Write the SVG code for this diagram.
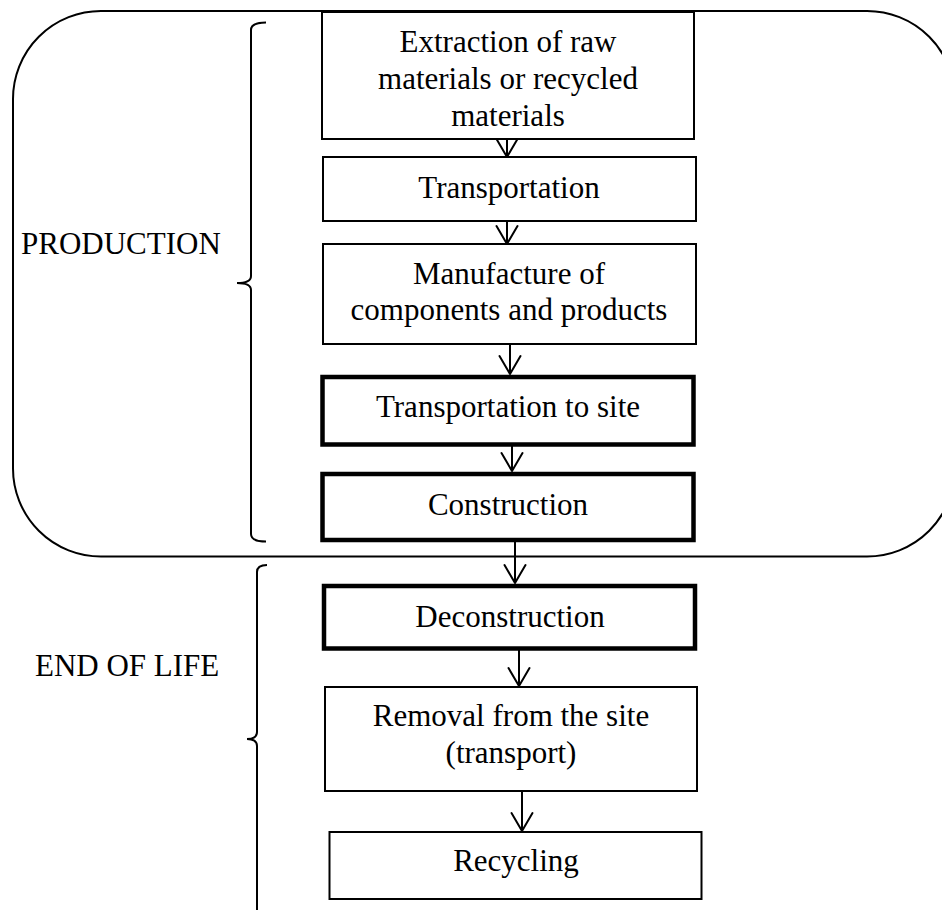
<svg xmlns="http://www.w3.org/2000/svg" width="942" height="910" viewBox="0 0 942 910">
<style>
  .bg { fill: #ffffff; }
  .frame { fill: none; stroke: #000; stroke-width: 2; }
  .box { fill: #fff; stroke: #000; stroke-width: 2; }
  .thick { fill: #fff; stroke: #000; stroke-width: 4.5; }
  .lbl { font-family: "Liberation Serif", "Times New Roman", serif; font-size: 31px; fill: #000; }
  .mid { text-anchor: middle; }
  .conn { fill: none; stroke: #000; stroke-width: 2; }
  .brace { fill: none; stroke: #000; stroke-width: 2; }
</style>
<defs>
  <marker id="arr" markerUnits="userSpaceOnUse" markerWidth="24" markerHeight="24" viewBox="0 0 24 24" refX="20" refY="12" orient="auto">
    <path d="M2,1.5 L20,12 L2,22.5" fill="none" stroke="#000" stroke-width="2" stroke-linejoin="round" stroke-linecap="round"/>
  </marker>
</defs>
<rect class="bg" x="0" y="0" width="942" height="910"/>

<g id="production-frame">
  <rect class="frame" x="13" y="11" width="942" height="545.5" rx="88" ry="88"/>
</g>

<g id="production-brace">
  <path class="brace" d="M266,22.5 Q251,22.5 251,30 L251,276 Q251,283 237,283 Q251,283 251,290 L251,534 Q251,541.5 266,541.5"/>
  <text class="lbl" x="21" y="254">PRODUCTION</text>
</g>

<g id="eol-brace">
  <path class="brace" d="M267,565 Q257,565 257,572 L257,732 Q257,739 247,739 Q257,739 257,746 L257,910"/>
  <text class="lbl" x="35" y="676">END OF LIFE</text>
</g>

<g id="connectors">
  <line class="conn" x1="507" y1="139" x2="507" y2="157" marker-end="url(#arr)"/>
  <line class="conn" x1="507" y1="221" x2="507" y2="244" marker-end="url(#arr)"/>
  <line class="conn" x1="510" y1="344" x2="510" y2="374" marker-end="url(#arr)"/>
  <line class="conn" x1="512" y1="444" x2="512" y2="471" marker-end="url(#arr)"/>
  <line class="conn" x1="515" y1="542" x2="515" y2="583" marker-end="url(#arr)"/>
  <line class="conn" x1="519" y1="650" x2="519" y2="686" marker-end="url(#arr)"/>
  <line class="conn" x1="522" y1="791" x2="522" y2="831" marker-end="url(#arr)"/>
</g>

<g id="extraction">
  <rect class="box" x="322" y="12" width="372" height="127"/>
  <text class="lbl mid" x="508" y="52">Extraction of raw</text>
  <text class="lbl mid" x="508" y="89">materials or recycled</text>
  <text class="lbl mid" x="508" y="126">materials</text>
</g>

<g id="transportation">
  <rect class="box" x="323" y="157" width="373" height="64"/>
  <text class="lbl mid" x="509" y="198">Transportation</text>
</g>

<g id="manufacture">
  <rect class="box" x="323" y="244" width="373" height="100"/>
  <text class="lbl mid" x="509" y="284">Manufacture of</text>
  <text class="lbl mid" x="509" y="320">components and products</text>
</g>

<g id="transport-site">
  <rect class="thick" x="322.5" y="377" width="371" height="67.5"/>
  <text class="lbl mid" x="508" y="417">Transportation to site</text>
</g>

<g id="construction">
  <rect class="thick" x="322.5" y="474" width="371" height="66"/>
  <text class="lbl mid" x="508" y="515">Construction</text>
</g>

<g id="deconstruction">
  <rect class="thick" x="324" y="586" width="371" height="62.5"/>
  <text class="lbl mid" x="510" y="627">Deconstruction</text>
</g>

<g id="removal">
  <rect class="box" x="325" y="687" width="372" height="104"/>
  <text class="lbl mid" x="511" y="726">Removal from the site</text>
  <text class="lbl mid" x="511" y="763">(transport)</text>
</g>

<g id="recycling">
  <rect class="box" x="329.5" y="832" width="372" height="67"/>
  <text class="lbl mid" x="516" y="871">Recycling</text>
</g>
</svg>
